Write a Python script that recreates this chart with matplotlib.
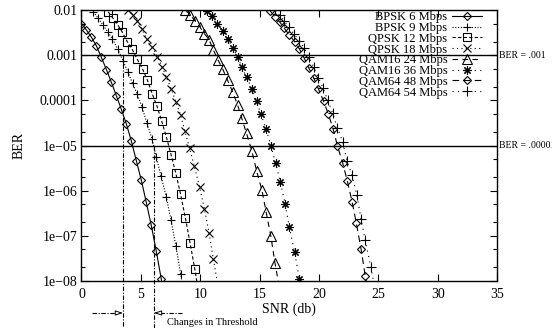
import matplotlib
matplotlib.use('Agg')
import matplotlib.pyplot as plt
from matplotlib.ticker import FixedLocator, FixedFormatter, LogLocator, NullFormatter

plt.rcParams['font.family'] = ['Liberation Serif', 'DejaVu Serif']

# BER curves (SNR in dB, BER)
bpsk6_snr = [0.0, 0.42, 0.84, 1.26, 1.68, 2.1, 2.52, 2.94, 3.36, 3.78, 4.2, 4.62, 5.04, 5.46, 5.88, 6.3, 6.72, 7.1]
bpsk6_ber = [5.0e-3, 3.6e-3, 2.5e-3, 1.6e-3, 8.9e-4, 4.8e-4, 2.5e-4, 1.26e-4, 6.3e-5, 3.0e-5, 1.26e-5,
             4.6e-6, 1.7e-6, 5.5e-7, 1.7e-7, 4.6e-8, 1.1e-8, 3.2e-9]

bpsk9_snr = [1.0, 1.4, 1.8, 2.2, 2.6, 3.05, 3.5, 3.9, 4.3, 4.7, 5.1, 5.5, 5.95, 6.3, 6.7, 7.15, 7.55, 7.95, 8.35, 8.75]
bpsk9_ber = [9.1e-3, 6.6e-3, 4.7e-3, 3.3e-3, 2.3e-3, 1.38e-3, 7.4e-4, 4.3e-4, 2.4e-4, 1.35e-4, 7.1e-5,
             3.2e-5, 1.38e-5, 5.6e-6, 2.1e-6, 7.1e-7, 2.2e-7, 5.9e-8, 1.45e-8, 3.5e-9]

qpsk12_snr = [2.25, 2.65, 3.05, 3.45, 3.85, 4.25, 4.7, 5.15, 5.55, 5.95, 6.35, 6.75, 7.15, 7.55, 7.95, 8.35,
              8.75, 9.15, 9.55, 9.95]
qpsk12_ber = [9.1e-3, 6.6e-3, 4.7e-3, 3.2e-3, 2.0e-3, 1.38e-3, 8.1e-4, 4.9e-4, 2.8e-4, 1.41e-4, 7.6e-5,
              3.5e-5, 1.55e-5, 6.2e-6, 2.4e-6, 8.3e-7, 2.5e-7, 6.9e-8, 1.8e-8, 4.0e-9]

qpsk18_snr = [3.9, 4.3, 4.7, 5.1, 5.5, 5.95, 6.4, 6.8, 7.15, 7.55, 7.95, 8.35, 8.7, 9.1, 9.5, 9.95, 10.35,
              10.75, 11.1, 11.5]
qpsk18_ber = [1.0e-2, 7.9e-3, 5.8e-3, 3.8e-3, 2.3e-3, 1.55e-3, 9.3e-4, 5.5e-4, 3.3e-4, 1.8e-4, 9.3e-5,
              4.7e-5, 2.1e-5, 8.9e-6, 3.5e-6, 1.2e-6, 4.0e-7, 1.15e-7, 3.1e-8, 7.9e-9]

qam16_24_snr = [8.75, 9.15, 9.55, 9.95, 10.35, 10.75, 11.1, 11.5, 11.9, 12.3, 12.75, 13.15, 13.5, 13.9,
                14.35, 14.75, 15.2, 15.55, 15.95, 16.3, 16.7]
qam16_24_ber = [1.0e-2, 7.8e-3, 5.8e-3, 4.3e-3, 3.0e-3, 2.2e-3, 1.32e-3, 7.8e-4, 4.9e-4, 2.8e-4, 1.5e-4,
                7.9e-5, 4.0e-5, 1.86e-5, 7.6e-6, 2.75e-6, 1.02e-6, 3.4e-7, 9.8e-8, 2.5e-8, 6.3e-9]

qam16_36_snr = [10.6, 11.0, 11.45, 11.9, 12.35, 12.75, 13.15, 13.5, 13.9, 14.35, 14.75, 15.1, 15.55, 15.95,
                16.35, 16.75, 17.15, 17.5, 17.95, 18.35, 18.75]
qam16_36_ber = [9.5e-3, 7.4e-3, 5.0e-3, 3.5e-3, 2.3e-3, 1.45e-3, 9.3e-4, 5.5e-4, 3.3e-4, 1.8e-4, 9.5e-5,
                5.1e-5, 2.3e-5, 1.0e-5, 4.1e-6, 1.55e-6, 5.1e-7, 1.6e-7, 4.4e-8, 1.1e-8, 2.5e-9]

qam64_48_snr = [15.9, 16.3, 16.7, 17.1, 17.5, 17.95, 18.35, 18.75, 19.15, 19.55, 19.95, 20.4, 20.8, 21.2,
                21.55, 22.0, 22.4, 22.8, 23.15, 23.55, 23.9, 24.3]
qam64_48_ber = [9.5e-3, 7.1e-3, 5.4e-3, 3.9e-3, 2.8e-3, 2.0e-3, 1.38e-3, 8.7e-4, 5.2e-4, 3.2e-4, 1.8e-4,
                9.5e-5, 4.9e-5, 2.3e-5, 1.0e-5, 4.1e-6, 1.6e-6, 5.6e-7, 1.9e-7, 5.1e-8, 1.3e-8, 3.2e-9]

qam64_54_snr = [16.3, 16.7, 17.1, 17.5, 17.9, 18.35, 18.75, 19.15, 19.55, 19.95, 20.35, 20.75, 21.15, 21.55,
                22.0, 22.36, 22.78, 23.2, 23.54, 23.9, 24.38, 24.8]
qam64_54_ber = [1.0e-2, 7.6e-3, 5.6e-3, 4.1e-3, 2.9e-3, 2.1e-3, 1.45e-3, 9.1e-4, 5.5e-4, 3.2e-4, 1.86e-4,
                1.0e-4, 5.2e-5, 2.5e-5, 1.2e-5, 4.6e-6, 2.2e-6, 7.9e-7, 2.4e-7, 7.9e-8, 2.0e-8, 5.0e-9]

labels = ['BPSK 6 Mbps', 'BPSK 9 Mbps', 'QPSK 12 Mbps', 'QPSK 18 Mbps',
          'QAM16 24 Mbps', 'QAM16 36 Mbps', 'QAM64 48 Mbps', 'QAM64 54 Mbps']

# reference BER levels and the SNR thresholds where BPSK 9 crosses them
ber_levels = [1e-3, 1e-5]
ber_level_labels = ['BER = .001', 'BER = .00001']
threshold_snr = [3.5, 6.1]

xticks = [0, 5, 10, 15, 20, 25, 30, 35]
yticks = [1e-8, 1e-7, 1e-6, 1e-5, 1e-4, 1e-3, 1e-2]
ytick_labels = ['1e\u221208', '1e\u221207', '1e\u221206', '1e\u221205', '0.0001', '0.001', '0.01']

fig = plt.figure(figsize=(5.52, 3.28), dpi=100)
ax = fig.add_axes([0.1476, 0.1433, 0.7528, 0.8262])

series = [
    (bpsk6_snr, bpsk6_ber, 'D', 4.2, '-'),
    (bpsk9_snr, bpsk9_ber, '+', 6.0, (0, (1, 1.5))),
    (qpsk12_snr, qpsk12_ber, 's', 6.3, (0, (3, 2))),
    (qpsk18_snr, qpsk18_ber, 'x', 5.8, (0, (1, 3))),
    (qam16_24_snr, qam16_24_ber, '^', 7.5, (0, (5, 4))),
    (qam16_36_snr, qam16_36_ber, (8, 2, 0), 6.0, (0, (1, 4))),
    (qam64_48_snr, qam64_48_ber, 'D', 4.2, (0, (6, 4))),
    (qam64_54_snr, qam64_54_ber, '+', 6.5, (0, (1, 4))),
]
for (x, y, m, ms, ls), lab in zip(series, labels):
    ax.plot(x, y, color='black', linestyle=ls, linewidth=0.8, marker=m, markersize=ms,
            markerfacecolor='none', markeredgecolor='black', markeredgewidth=0.8, label=lab)

for lvl, txt in zip(ber_levels, ber_level_labels):
    ax.axhline(lvl, color='black', linewidth=1.0)
    ax.text(1.004, lvl, txt, transform=ax.get_yaxis_transform(), fontsize=7,
            ha='left', va='center', clip_on=False)

# threshold markers below the axis
xt = ax.get_xaxis_transform()
for snr, lvl in zip(threshold_snr, ber_levels):
    ax.plot([snr, snr], [lvl, 10 ** -9.2], color='black', linewidth=0.8,
            linestyle=(0, (4, 1.5, 1, 1.5)), clip_on=False)
ax.plot([0.85, threshold_snr[0] - 0.5], [-0.118, -0.118], transform=xt, color='black',
        linewidth=0.8, linestyle=(0, (4, 1.5, 1, 1.5)), clip_on=False)
ax.plot([threshold_snr[1] + 0.5, 8.45], [-0.118, -0.118], transform=xt, color='black',
        linewidth=0.8, linestyle=(0, (4, 1.5, 1, 1.5)), clip_on=False)
ax.annotate('', xy=(threshold_snr[0], -0.118), xycoords=xt,
            xytext=(threshold_snr[0] - 0.6, -0.118), textcoords=xt,
            arrowprops=dict(arrowstyle='-|>,head_length=0.45,head_width=0.15', color='black',
                            fc='white', lw=0.7, shrinkA=0, shrinkB=0))
ax.annotate('', xy=(threshold_snr[1], -0.118), xycoords=xt,
            xytext=(threshold_snr[1] + 0.6, -0.118), textcoords=xt,
            arrowprops=dict(arrowstyle='-|>,head_length=0.45,head_width=0.15', color='black',
                            fc='white', lw=0.7, shrinkA=0, shrinkB=0))
ax.text(11.0, -0.154, 'Changes in Threshold', transform=xt, fontsize=7.5,
        ha='center', va='center')

ax.set_yscale('log')
ax.set_xlim(0, 35)
ax.set_ylim(1e-8, 1e-2)
ax.xaxis.set_major_locator(FixedLocator(xticks))
ax.set_xticklabels([str(t) for t in xticks])
ax.yaxis.set_major_locator(FixedLocator(yticks))
ax.yaxis.set_major_formatter(FixedFormatter(ytick_labels))
ax.yaxis.set_minor_locator(LogLocator(base=10, subs=(2.0, 5.0)))
ax.yaxis.set_minor_formatter(NullFormatter())
ax.tick_params(which='both', direction='in', top=True, right=True, labelsize=10, width=0.8)
ax.tick_params(which='major', length=5)
ax.tick_params(which='minor', length=3)
ax.tick_params(axis='x', pad=5)
ax.tick_params(axis='y', pad=3)
for sp in ax.spines.values():
    sp.set_linewidth(1.0)

ax.set_xlabel('SNR (db)', fontsize=10)
ax.set_ylabel('BER', fontsize=10)
ax.xaxis.set_label_coords(0.5, -0.078)
ax.yaxis.set_label_coords(-0.134, 0.5)

ax.legend(loc='upper right', bbox_to_anchor=(0.965, 0.995), frameon=False, markerfirst=False,
          fontsize=9, labelspacing=-0.1, handlelength=2.4, handletextpad=0.4,
          borderpad=0, borderaxespad=0)

plt.savefig('out.png', dpi=100)
